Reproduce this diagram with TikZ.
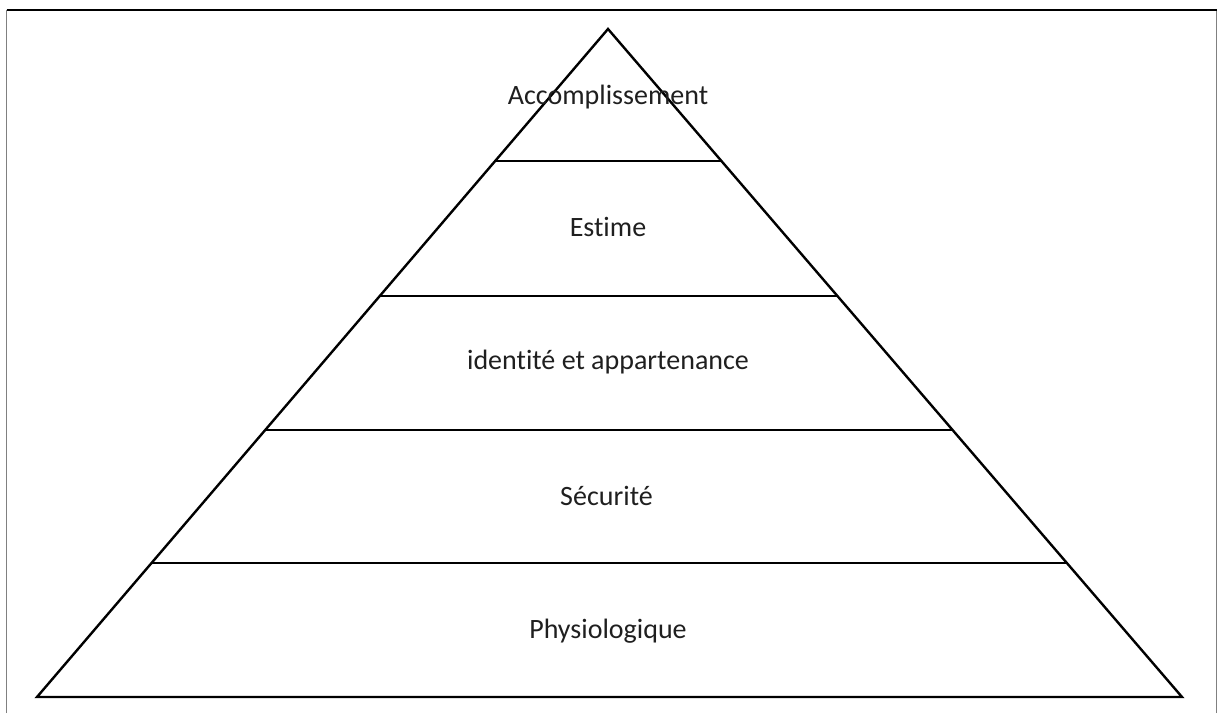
\documentclass[tikz,border=0pt]{standalone}
\usepackage{fontspec}
\setmainfont[RawFeature={-liga;-clig}]{Carlito}
\usetikzlibrary{calc}
\begin{document}
\begin{tikzpicture}[x=1pt,y=1pt,
  edge/.style={draw=black,line width=2.4pt,line join=miter},
  level/.style={font=\fontsize{28}{32}\selectfont,text=black!88,anchor=base,inner sep=0pt},
  frameline/.style={line width=1.3pt}]
\useasboundingbox (0,0) rectangle (1220,713);
% frame
\coordinate (fl) at (6.5,0);
\coordinate (ftl) at (6.5,703);
\coordinate (ftr) at (1216.5,703);
\coordinate (fr) at (1216.5,0);
\draw[frameline,draw=black!50] (fl) -- (ftl);
\draw[frameline,draw=black!50] (fr) -- (ftr);
\draw[frameline,draw=black] (ftl) -- (ftr);
% pyramid
\coordinate (apex) at (608,684);
\coordinate (bl) at (37,16);
\coordinate (br) at (1182,16);
\draw[edge] (bl) -- (apex) -- (br) -- cycle;
\foreach \t [count=\i] in {0.1976,0.3997,0.6003,0.7994}{
  \coordinate (l\i) at ($(apex)!\t!(bl)$);
  \coordinate (r\i) at ($(apex)!\t!(br)$);
  \draw[edge] (l\i) -- (r\i);
}
% labels
\node[level] (acc) at (608,608) {Accomplissement};
\node[level] (est) at (608,476) {Estime};
\node[level] (ide) at (608,343) {identité et appartenance};
\node[level] (sec) at (606.5,208) {Sécurité};
\node[level] (phy) at (608,75) {Physiologique};
\end{tikzpicture}
\end{document}
